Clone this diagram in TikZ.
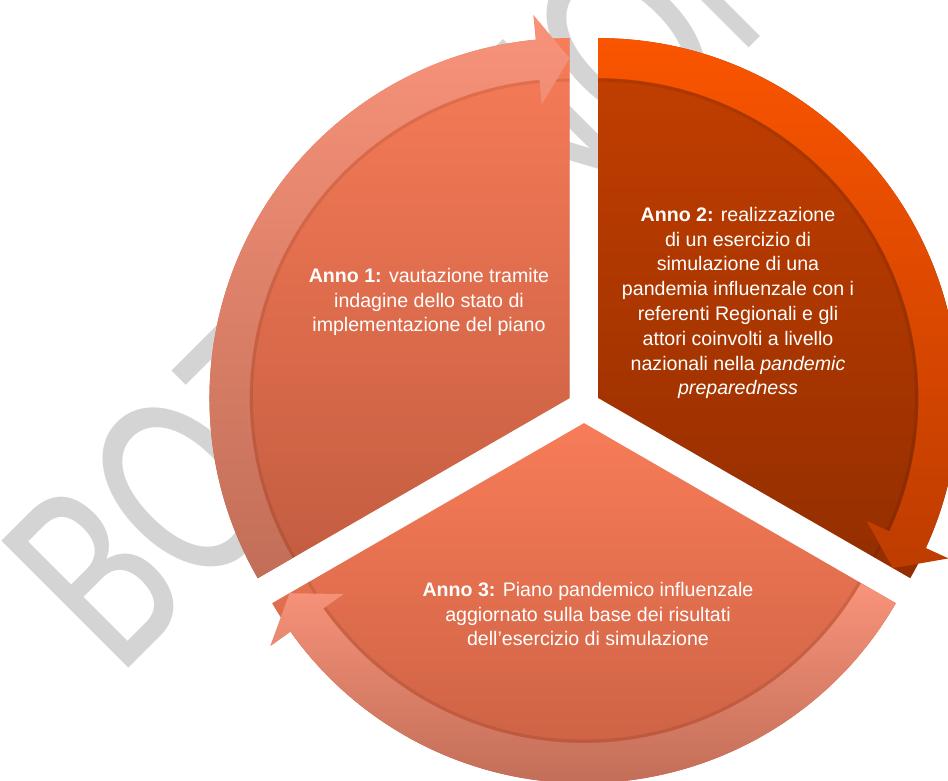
\documentclass[tikz,border=0pt]{standalone}
\usepackage{fontspec}
\setmainfont{Liberation Sans}
\newfontfamily\wmfont{Carlito}
\usepackage{graphicx}
\usetikzlibrary{calc}

\definecolor{sAtop}{HTML}{F87C58}
\definecolor{sAbot}{HTML}{C25C40}
\definecolor{bAtop}{HTML}{F8937A}
\definecolor{bAbot}{HTML}{C26E58}
\definecolor{sBtop}{HTML}{C43F00}
\definecolor{sBbot}{HTML}{932E00}
\definecolor{bBtop}{HTML}{FA5500}
\definecolor{bBbot}{HTML}{BE3C00}
\definecolor{wmgray}{HTML}{D4D4D4}

\tikzset{
  lbl/.style={text=white, align=center, inner sep=0pt,
    font=\fontsize{19.6}{24.8}\selectfont},
  wm/.style={text=wmgray, inner sep=0pt, font=\wmfont\fontsize{280}{280}\selectfont},
  shadowpiece/.style={fill=black, opacity=0.16},
  innershade/.style={draw=black, opacity=0.09, line width=3pt},
}

% #1 apex, #2 start angle, #3 end angle (arrow tip side), #4/#5 sector top/bottom colour, #6/#7 band top/bottom colour
\newcommand\cyclepiece[7]{%
  \fill[shadowpiece, shift={(1.5,-2.5)}] (#1) -- ($(#1)+(#2:360)$) arc[start angle=#2, end angle=#3, radius=360] -- cycle;
  \shade[top color=#4, bottom color=#5] (#1) -- ($(#1)+(#2:360)$) arc[start angle=#2, end angle=#3, radius=360] -- cycle;
  \begin{scope}
    \clip (#1) -- ($(#1)+(#2:360)$) arc[start angle=#2, end angle=#3, radius=360] -- cycle;
    \draw[innershade] ($(#1)+(#2:318)$) arc[start angle=#2, end angle=#3, radius=318];
  \end{scope}
  \pgfmathsetmacro\hb{#3+5.4}%
  \shade[top color=#6, bottom color=#7]
    ($(#1)+(#2:360)$) arc[start angle=#2, end angle=\hb, radius=360]
    -- ($(#1)+(\hb:385)$) -- ($(#1)+(#3:340)$) -- ($(#1)+(\hb:295)$)
    -- ($(#1)+(\hb:320)$) arc[start angle=\hb, end angle=#2, radius=320] -- cycle;
}

\begin{document}
\begin{tikzpicture}[x=1pt,y=1pt]
\useasboundingbox (0,0) rectangle (948,781);
\clip (0,0) rectangle (948,781);
\fill[white] (0,0) rectangle (948,781);

% watermark
\node[wm, anchor=base west, rotate=45] (wmark) at (118,102) {\scalebox{0.74}[1]{BOZZA NON DEFINITIVA}};

\coordinate (C) at (584,374.5);
\coordinate (A1) at ($(C)+(150:16.7)$);
\coordinate (A2) at ($(C)+(30:16.7)$);
\coordinate (A3) at ($(C)+(270:16.7)$);

\cyclepiece{A1}{210}{90}{sAtop}{sAbot}{bAtop}{bAbot}
\cyclepiece{A2}{90}{-30}{sBtop}{sBbot}{bBtop}{bBbot}
\cyclepiece{A3}{-30}{-150}{sAtop}{sAbot}{bAtop}{bAbot}

\node[lbl] (t1) at (429,479) {\textbf{Anno 1:} vautazione tramite\\indagine dello stato di\\implementazione del piano};
\node[lbl] (t2) at (738,478) {\textbf{Anno 2:} realizzazione\\di un esercizio di\\simulazione di una\\pandemia influenzale con i\\referenti Regionali e gli\\attori coinvolti a livello\\nazionali nella \textit{pandemic}\\\textit{preparedness}};
\node[lbl] (t3) at (588,167) {\textbf{Anno 3:} Piano pandemico influenzale\\aggiornato sulla base dei risultati\\dell'esercizio di simulazione};
\end{tikzpicture}
\end{document}
